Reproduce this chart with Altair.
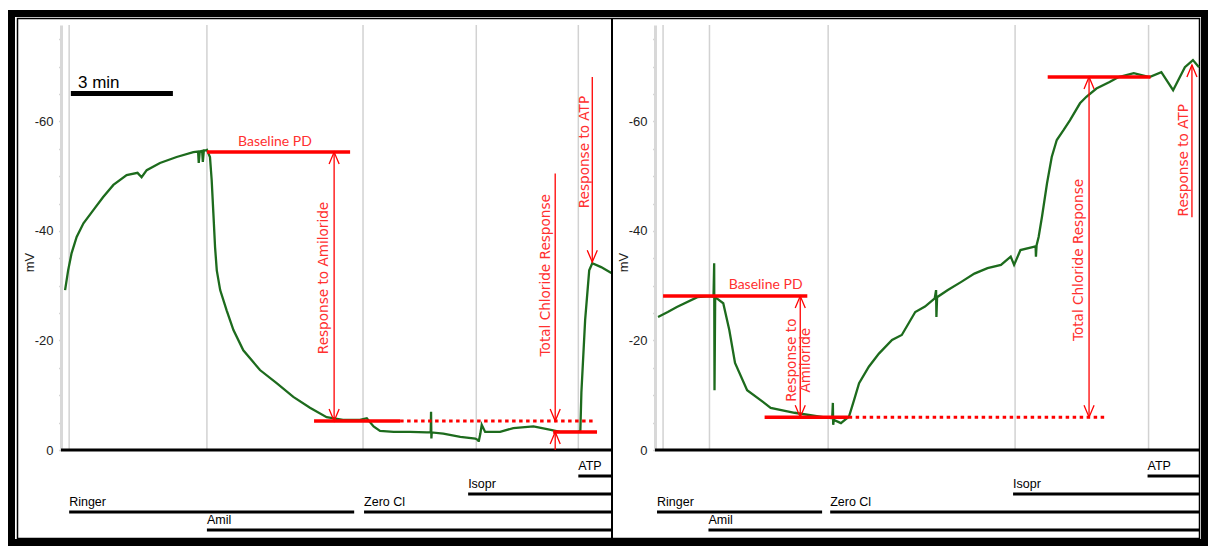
import altair as alt
import pandas as pd

# ---------------- values ----------------
Y_TOP = -77.6          # mV at the top of each trace panel
LEFT_T_MAX = 16.2      # minutes shown in left panel
RIGHT_T_MAX = 16.18    # minutes shown in right panel
Y_TICKS = list(range(-75, 1, 5))

# (time in min, potential in mV)
LEFT_TRACE = [
    (0.12, -29.2), (0.21, -32.8), (0.31, -35.9), (0.46, -38.9), (0.66, -41.4),
    (0.95, -43.8), (1.24, -46.2), (1.54, -48.4), (1.93, -50.2), (2.25, -50.6),
    (2.37, -49.8), (2.52, -51.1), (2.91, -52.4), (3.40, -53.5), (3.89, -54.4),
    (4.03, -54.5), (4.05, -52.4), (4.08, -54.5), (4.15, -54.6), (4.17, -52.6),
    (4.20, -54.7), (4.26, -54.7), (4.29, -54.8), (4.38, -53.5), (4.43, -49.3),
    (4.48, -43.2), (4.53, -37.0), (4.58, -32.8), (4.68, -29.2), (4.87, -25.5),
    (5.07, -21.9), (5.36, -18.2), (5.85, -14.6), (6.34, -12.2), (6.83, -9.7),
    (7.32, -7.7), (7.81, -6.0), (8.29, -5.5), (8.70, -5.5), (8.79, -5.5),
    (8.99, -5.8), (9.19, -4.3), (9.38, -3.5), (9.78, -3.3), (10.26, -3.3),
    (10.76, -3.2), (10.87, -3.2), (10.88, -7.0), (10.89, -2.1), (10.90, -3.2),
    (11.24, -3.0), (11.74, -2.4), (12.18, -2.1), (12.27, -1.8), (12.28, -1.5),
    (12.33, -3.0), (12.37, -4.6), (12.47, -3.3), (12.91, -3.3), (13.30, -4.0),
    (13.89, -4.3), (14.29, -3.8), (14.68, -3.3), (15.21, -3.3), (15.27, -3.6),
    (15.30, -10.5), (15.41, -23.7), (15.53, -32.8), (15.62, -34.1), (15.88, -33.4),
    (16.18, -32.3),
]
RIGHT_TRACE = [
    (0.09, -24.3), (0.38, -25.2), (0.65, -26.1), (1.26, -27.9), (1.62, -28.1),
    (1.74, -28.0), (1.76, -34.1), (1.77, -10.9), (1.79, -27.9), (2.03, -26.8),
    (2.21, -21.9), (2.38, -15.9), (2.74, -10.9), (3.21, -8.8), (3.44, -7.7),
    (4.15, -6.8), (5.00, -6.0), (5.27, -5.8), (5.29, -8.6), (5.30, -4.6),
    (5.32, -5.5), (5.53, -4.9), (5.77, -6.1), (5.92, -9.1), (6.07, -12.2),
    (6.36, -15.2), (6.66, -17.6), (7.05, -20.1), (7.34, -21.0), (7.54, -23.1),
    (7.74, -25.2), (8.03, -26.2), (8.32, -27.7), (8.36, -29.2), (8.37, -24.3),
    (8.39, -27.9), (8.71, -29.2), (9.11, -30.7), (9.50, -32.2), (9.89, -33.2),
    (10.29, -33.8), (10.58, -35.3), (10.68, -33.8), (10.87, -36.5), (11.26, -37.1),
    (11.32, -37.2), (11.33, -35.3), (11.35, -37.4), (11.41, -38.9), (11.51, -42.6),
    (11.66, -48.7), (11.80, -53.5), (11.95, -56.6), (12.15, -58.4), (12.34, -60.2),
    (12.64, -63.3), (12.83, -64.5), (13.13, -66.0), (13.52, -67.2), (13.79, -68.1),
    (14.24, -68.8), (14.71, -68.1), (15.06, -69.0), (15.41, -65.7), (15.76, -69.9),
    (16.00, -71.2), (16.18, -69.9),
]

LEFT_EVENTS = [0.24, 4.29, 8.88, 12.21, 15.21]
RIGHT_EVENTS = [0.24, 1.62, 5.15, 10.71, 14.68]

LANE_LABELS = ["ATP", "Isopr", "Ringer", "Zero Cl", "Amil"]
LANE_ROW = [0, 1, 2, 2, 3]
LEFT_LANE_START = [15.21, 11.97, 0.24, 8.91, 4.29]
LEFT_LANE_END = [16.2, 16.2, 8.62, 16.2, 16.2]
RIGHT_LANE_START = [14.65, 10.65, 0.06, 5.21, 1.59]
RIGHT_LANE_END = [16.18, 16.18, 4.97, 16.18, 16.18]

# red annotation lines: (t1, t2, mV)
LEFT_SEGMENTS = [(4.29, 8.50, -54.4), (7.44, 9.97, -5.3), (14.47, 15.76, -3.3)]
LEFT_DOTTED = [(9.97, 15.65, -5.3)]
RIGHT_SEGMENTS = [(0.24, 4.53, -28.1), (3.26, 5.76, -6.0), (11.68, 14.74, -68.1)]
RIGHT_DOTTED = [(5.76, 13.44, -6.0)]

# arrow shafts: (t, mV from, mV to)
LEFT_ARROWS = [(8.03, -54.4, -5.3), (14.53, -50.5, -5.3), (14.53, 0.0, -3.3), (15.62, -68.1, -34.3)]
RIGHT_ARROWS = [(4.32, -28.1, -6.0), (12.91, -68.1, -6.0), (15.97, -70.3, -42.5)]
LEFT_HEADS_UP = [(8.03, -54.4), (14.53, -3.3)]
LEFT_HEADS_DOWN = [(8.03, -5.3), (14.53, -5.3), (15.62, -34.3)]
RIGHT_HEADS_UP = [(4.32, -28.1), (12.91, -68.1), (15.97, -70.3)]
RIGHT_HEADS_DOWN = [(4.32, -6.0), (12.91, -6.0)]

# annotation texts: (label, t, mV)
LEFT_HTEXT = [("Baseline PD", 6.29, -56.2)]
RIGHT_HTEXT = [("Baseline PD", 3.29, -30.1)]
LEFT_VTEXT = [("Response to Amiloride", 7.74, -31.4),
              ("Total Chloride Response", 14.26, -31.9),
              ("Response to ATP", 15.41, -54.4)]
RIGHT_VTEXT = [("Response to", 4.06, -16.4), ("Amiloride", 4.50, -16.4),
               ("Total Chloride Response", 12.62, -34.7),
               ("Response to ATP", 15.74, -52.9)]

SCALEBAR = [(0.29, 3.29, -65.1)]
SCALEBAR_LABEL = [("3 min", 0.50, -65.1)]

# ---------------- styling ----------------
GREEN = "#1d6b1d"
RED = "#ff0000"
RED_TXT = "#ff3030"
HEIGHT = 425
LEFT_W = 551
RIGHT_W = 544
UP = "M-0.42,1L0,0L0.42,1"
DOWN = "M-0.42,-1L0,0L0.42,-1"


def panel(width, tmax, trace, events, lane_start, lane_end, segs, dots, arrows,
          heads_up, heads_down, htext, vtext, frame=False, scalebar=False):
    xs = alt.Scale(domain=[0, tmax], nice=False, zero=False)
    ys = alt.Scale(domain=[0, Y_TOP], nice=False, zero=False)
    yaxis = alt.Axis(
        values=Y_TICKS,
        labelExpr="datum.value % 20 == 0 ? '' + datum.value : ''",
        title="mV", titleX=-25, titleY=237, titleFontWeight="normal",
        titleFontSize=13, titleColor="#222222", titleFont="Liberation Sans",
        labelFont="Liberation Sans", labelFontSize=13, labelColor="#222222",
        labelPadding=6, tickSize=2, tickColor="#aaaaaa", tickWidth=1.5,
        domainColor="#d8d8d8", domainWidth=3, grid=False,
    )

    def X(f):
        return alt.X(f + ":Q", scale=xs, axis=None)

    def Y(f):
        return alt.Y(f + ":Q", scale=ys, axis=yaxis)

    layers = []
    ev = pd.DataFrame({"t": events, "lo": [0.0] * len(events), "hi": [Y_TOP] * len(events)})
    layers.append(alt.Chart(ev).mark_rule(color="#d2d2d2", strokeWidth=1.5)
                  .encode(x=X("t"), y=Y("lo"), y2="hi"))

    zero = pd.DataFrame({"t1": [0.0], "t2": [tmax], "mv": [0.0]})
    layers.append(alt.Chart(zero).mark_rule(color="black", strokeWidth=3)
                  .encode(x=X("t1"), x2="t2", y=Y("mv")))

    tr = pd.DataFrame({"i": list(range(len(trace))),
                       "t": [p[0] for p in trace], "mv": [p[1] for p in trace]})
    layers.append(alt.Chart(tr).mark_line(color=GREEN, strokeWidth=2.3)
                  .encode(x=X("t"), y=Y("mv"), order="i:Q"))

    sg = pd.DataFrame({"t1": [s[0] for s in segs], "t2": [s[1] for s in segs],
                       "mv": [s[2] for s in segs]})
    layers.append(alt.Chart(sg).mark_rule(color=RED, strokeWidth=3.5)
                  .encode(x=X("t1"), x2="t2", y=Y("mv")))

    dt = pd.DataFrame({"t1": [s[0] for s in dots], "t2": [s[1] for s in dots],
                       "mv": [s[2] for s in dots]})
    layers.append(alt.Chart(dt).mark_rule(color=RED, strokeWidth=3, strokeDash=[3.5, 3.5])
                  .encode(x=X("t1"), x2="t2", y=Y("mv")))

    ar = pd.DataFrame({"t": [a[0] for a in arrows], "a": [a[1] for a in arrows],
                       "b": [a[2] for a in arrows]})
    layers.append(alt.Chart(ar).mark_rule(color=RED, strokeWidth=1.3)
                  .encode(x=X("t"), y=Y("a"), y2="b"))

    hu = pd.DataFrame({"t": [h[0] for h in heads_up], "mv": [h[1] for h in heads_up]})
    layers.append(alt.Chart(hu).mark_point(shape=UP, size=576, filled=False, color=RED,
                                           strokeWidth=1.3, opacity=1)
                  .encode(x=X("t"), y=Y("mv")))
    hd = pd.DataFrame({"t": [h[0] for h in heads_down], "mv": [h[1] for h in heads_down]})
    layers.append(alt.Chart(hd).mark_point(shape=DOWN, size=576, filled=False, color=RED,
                                           strokeWidth=1.3, opacity=1)
                  .encode(x=X("t"), y=Y("mv")))

    ht = pd.DataFrame({"label": [h[0] for h in htext], "t": [h[1] for h in htext],
                       "mv": [h[2] for h in htext]})
    layers.append(alt.Chart(ht).mark_text(color=RED_TXT, font="Liberation Sans Narrow, Lato",
                                          fontSize=14)
                  .encode(x=X("t"), y=Y("mv"), text="label:N"))
    vt = pd.DataFrame({"label": [h[0] for h in vtext], "t": [h[1] for h in vtext],
                       "mv": [h[2] for h in vtext]})
    layers.append(alt.Chart(vt).mark_text(color=RED_TXT, font="DejaVu Sans", fontSize=13.6,
                                          angle=270)
                  .encode(x=X("t"), y=Y("mv"), text="label:N"))

    if scalebar:
        sb = pd.DataFrame({"t1": [s[0] for s in SCALEBAR], "t2": [s[1] for s in SCALEBAR],
                           "mv": [s[2] for s in SCALEBAR]})
        layers.append(alt.Chart(sb).mark_rule(color="black", strokeWidth=5)
                      .encode(x=X("t1"), x2="t2", y=Y("mv")))
        sl = pd.DataFrame({"label": [s[0] for s in SCALEBAR_LABEL],
                           "t": [s[1] for s in SCALEBAR_LABEL],
                           "mv": [s[2] for s in SCALEBAR_LABEL]})
        layers.append(alt.Chart(sl).mark_text(align="left", baseline="alphabetic", dy=-5,
                                              fontSize=17, font="Liberation Sans",
                                              color="black")
                      .encode(x=X("t"), y=Y("mv"), text="label:N"))

    main = alt.layer(*layers)

    ls = alt.Scale(domain=[0, 3], range=[451, 505], nice=False, zero=False)
    ln = pd.DataFrame({"label": LANE_LABELS, "row": LANE_ROW,
                       "start": lane_start, "end": lane_end})
    lane_layers = [
        alt.Chart(ln).mark_rule(color="black", strokeWidth=3)
        .encode(x=X("start"), x2="end", y=alt.Y("row:Q", scale=ls, axis=None)),
        alt.Chart(ln).mark_text(align="left", baseline="alphabetic", dy=-6, fontSize=12.5,
                                font="Liberation Sans", color="black")
        .encode(x=X("start"), y=alt.Y("row:Q", scale=ls, axis=None), text="label:N"),
    ]
    if frame:
        one = pd.DataFrame({"k": [0]})
        lane_layers.append(
            alt.Chart(one).mark_rect(fillOpacity=0, stroke="black", strokeWidth=7)
            .encode(x=alt.value(-49.5), x2=alt.value(1143.5),
                    y=alt.value(-11.5), y2=alt.value(517.5)))
        lane_layers.append(
            alt.Chart(one).mark_rect(fillOpacity=0, stroke="black", strokeWidth=1.5)
            .encode(x=alt.value(-43.5), x2=alt.value(1138.5),
                    y=alt.value(-6.5), y2=alt.value(513.5)))
        lane_layers.append(
            alt.Chart(one).mark_rule(color="black", strokeWidth=2)
            .encode(x=alt.value(width), y=alt.value(-6.5), y2=alt.value(513.5)))
    lanes = alt.layer(*lane_layers)

    return (alt.layer(main, lanes)
            .resolve_scale(y="independent")
            .properties(width=width, height=HEIGHT))


left = panel(LEFT_W, LEFT_T_MAX, LEFT_TRACE, LEFT_EVENTS, LEFT_LANE_START, LEFT_LANE_END,
             LEFT_SEGMENTS, LEFT_DOTTED, LEFT_ARROWS, LEFT_HEADS_UP, LEFT_HEADS_DOWN,
             LEFT_HTEXT, LEFT_VTEXT, frame=True, scalebar=True)
right = panel(RIGHT_W, RIGHT_T_MAX, RIGHT_TRACE, RIGHT_EVENTS, RIGHT_LANE_START, RIGHT_LANE_END,
              RIGHT_SEGMENTS, RIGHT_DOTTED, RIGHT_ARROWS, RIGHT_HEADS_UP, RIGHT_HEADS_DOWN,
              RIGHT_HTEXT, RIGHT_VTEXT)

chart = (alt.hconcat(left, right, spacing=43, bounds="flush")
         .properties(padding={"left": 0, "top": 2, "right": 0, "bottom": 0},
                     background="white")
         .configure_view(strokeWidth=0))

chart.save("out.html", embed_options={"renderer": "svg", "actions": False})
